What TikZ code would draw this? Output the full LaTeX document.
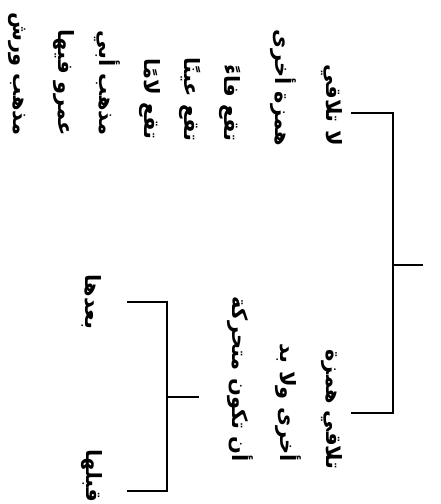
\documentclass[tikz,border=0pt]{standalone}
\usepackage{fontspec}
\newfontfamily\arabicfont[Script=Arabic]{DejaVu Sans}
\TeXXeTstate=1
\begin{document}
\begin{tikzpicture}[x=1pt,y=-1pt,
  lbl/.style={rotate=-90,inner sep=0pt,anchor=east,font=\arabicfont\bfseries\fontsize{21}{24}\selectfont},
  tree/.style={line width=2.4pt,line cap=rect}]
\useasboundingbox (0,0) rectangle (440,504);
% top child block
\node[lbl] (t1) at (332,146) {\beginR لا تلاقي\endR};
\node[lbl] (t2) at (283,146) {\beginR همزة أخرى\endR};
\node[lbl] (t3) at (230,142) {\beginR تقع فاءً\endR};
\node[lbl] (t4) at (190,142) {\beginR تقع عينًا\endR};
\node[lbl] (t5) at (150,140) {\beginR تقع لامًا\endR};
\node[lbl] (t6) at (107,136) {\beginR مذهب أبي\endR};
\node[lbl] (t7) at (64,136) {\beginR عمرو فيها\endR};
\node[lbl] (t8) at (17,136) {\beginR مذهب ورش\endR};
% bottom child block
\node[lbl] (u1) at (332,470) {\beginR تلاقي همزة\endR};
\node[lbl] (u2) at (288,462) {\beginR أخرى ولا بد\endR};
\node[lbl] (u3) at (240,462) {\beginR أن تكون متحركة\endR};
% leaves
\node[lbl,anchor=center] (l1) at (92,302) {\beginR بعدها\endR};
\node[lbl,anchor=center] (l2) at (92,476) {\beginR قبلها\endR};
% tree lines
\coordinate (root) at (422,265);
\coordinate (j) at (393,265);
\coordinate (b1) at (352,113);
\coordinate (b2) at (352,413);
\draw[tree] (root) -- (j);
\draw[tree] (b1) -| (j);
\draw[tree] (b2) -| (j);
\coordinate (root2) at (198,397);
\coordinate (j2) at (167,397);
\coordinate (d1) at (128,302);
\coordinate (d2) at (128,491);
\draw[tree] (root2) -- (j2);
\draw[tree] (d1) -| (j2);
\draw[tree] (d2) -| (j2);
\end{tikzpicture}
\end{document}
